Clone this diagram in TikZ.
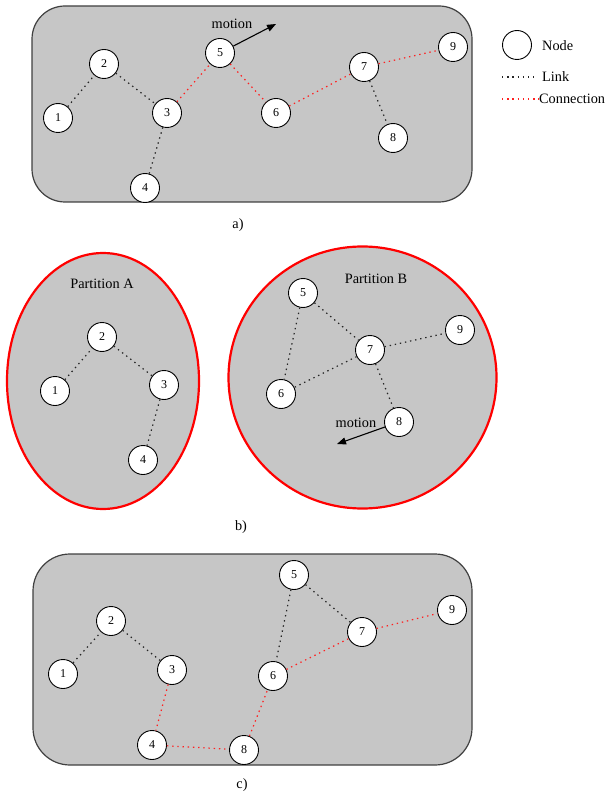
\documentclass[tikz,border=0pt]{standalone}
\usepackage{fontspec}
\setmainfont{Liberation Serif}
\usetikzlibrary{arrows.meta}
\definecolor{panelgray}{HTML}{C6C6C6}
\definecolor{linkred}{HTML}{FF2020}
\tikzset{
  nd/.style={circle,draw=black,line width=0.9pt,fill=white,minimum size=29pt,inner sep=0pt,font=\fontsize{12}{12}\selectfont},
  lbl/.style={font=\fontsize{14.3}{16}\selectfont,inner sep=0pt},
  lnk/.style={draw=black!85,line width=1.2pt,dash pattern=on 1.4pt off 3.8pt},
  con/.style={draw=linkred,line width=1.2pt,dash pattern=on 1.4pt off 3.8pt},
  panel/.style={draw=black!75,line width=1.2pt,fill=panelgray},
  part/.style={draw=red,line width=2.2pt,fill=panelgray},
  mot/.style={draw=black,line width=1.1pt,-{Triangle[length=9pt,width=7pt]}}
}
\begin{document}
\begin{tikzpicture}[x=1pt,y=-1pt]
\useasboundingbox (0,0) rectangle (608,794);
% ---------- a) ----------
\draw[panel,rounded corners=33pt] (32,6) rectangle (472,202);
\node[nd] (a1) at (58,118) {1};
\node[nd] (a2) at (104,64) {2};
\node[nd] (a3) at (167,113) {3};
\node[nd] (a4) at (145,188) {4};
\node[nd] (a5) at (220,53) {5};
\node[nd] (a6) at (276,113) {6};
\node[nd] (a7) at (364,67) {7};
\node[nd] (a8) at (393,138) {8};
\node[nd] (a9) at (453,47) {9};
\draw[lnk] (a1) -- (a2);
\draw[lnk] (a2) -- (a3);
\draw[lnk] (a3) -- (a4);
\draw[lnk] (a7) -- (a8);
\draw[con] (a3) -- (a5);
\draw[con] (a5) -- (a6);
\draw[con] (a6) -- (a7);
\draw[con] (a7) -- (a9);
\coordinate (am) at (276,24);
\draw[mot] (a5) -- (am);
\node[lbl] (amt) at (232,24) {motion};
\node[lbl] (alab) at (238,225) {a)};
% legend
\node[nd] (lg) at (517,45) {};
\node[lbl,anchor=west] (lgn) at (542,46) {Node};
\coordinate (lk1) at (502,77);
\node[lbl,anchor=west] (lgl) at (542,77) {Link};
\draw[lnk] (lk1) -- ++(32,0);
\coordinate (lc1) at (502,99);
\node[lbl,anchor=west] (lgc) at (539,99) {Connection};
\draw[con] (lc1) -- (lgc.west);
% ---------- b) ----------
\draw[part] (103,381) ellipse [x radius=96, y radius=128];
\draw[part] (362.5,377.5) ellipse [x radius=134, y radius=131];
\node[lbl] (pa) at (102,284) {Partition A};
\node[lbl] (pb) at (376,279) {Partition B};
\node[nd] (b1) at (55,391) {1};
\node[nd] (b2) at (102,337) {2};
\node[nd] (b3) at (164,385) {3};
\node[nd] (b4) at (143,460) {4};
\node[nd] (b5) at (303,293) {5};
\node[nd] (b6) at (281,394) {6};
\node[nd] (b7) at (370,350) {7};
\node[nd] (b8) at (399,422) {8};
\node[nd] (b9) at (460,330) {9};
\draw[lnk] (b1) -- (b2);
\draw[lnk] (b2) -- (b3);
\draw[lnk] (b3) -- (b4);
\draw[lnk] (b5) -- (b6);
\draw[lnk] (b5) -- (b7);
\draw[lnk] (b7) -- (b6);
\draw[lnk] (b7) -- (b9);
\draw[lnk] (b7) -- (b8);
\coordinate (bm) at (337,444);
\draw[mot] (b8) -- (bm);
\node[lbl] (bmt) at (356,423) {motion};
\node[lbl] (blab) at (241,527) {b)};
% ---------- c) ----------
\draw[panel,rounded corners=37pt] (33,554) rectangle (472,765);
\node[nd] (c1) at (63,674) {1};
\node[nd] (c2) at (111,621) {2};
\node[nd] (c3) at (172,670) {3};
\node[nd] (c4) at (152,745) {4};
\node[nd] (c5) at (294,575) {5};
\node[nd] (c6) at (273,676) {6};
\node[nd] (c7) at (362,632) {7};
\node[nd] (c8) at (244,750) {8};
\node[nd] (c9) at (452,610) {9};
\draw[lnk] (c1) -- (c2);
\draw[lnk] (c2) -- (c3);
\draw[lnk] (c5) -- (c6);
\draw[lnk] (c5) -- (c7);
\draw[con] (c3) -- (c4);
\draw[con] (c4) -- (c8);
\draw[con] (c8) -- (c6);
\draw[con] (c6) -- (c7);
\draw[con] (c7) -- (c9);
\node[lbl] (clab) at (242,785) {c)};
\end{tikzpicture}
\end{document}
